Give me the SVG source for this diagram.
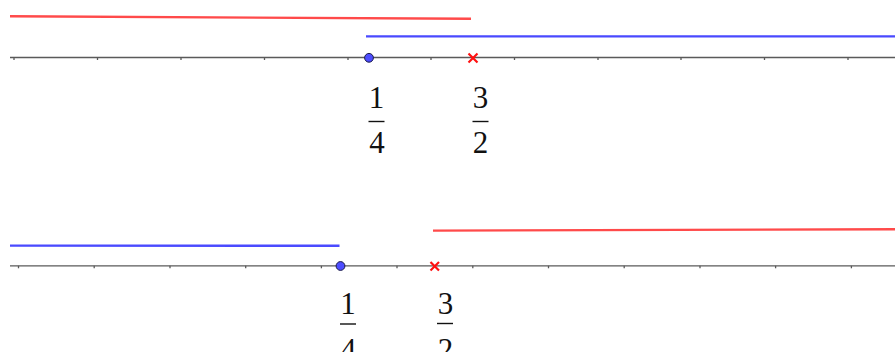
<svg xmlns="http://www.w3.org/2000/svg" width="895" height="352" viewBox="0 0 895 352">
<defs>
<style>
.axis{stroke:#5a5a5a;stroke-width:1.3;fill:none}
.tick{stroke:#5a5a5a;stroke-width:1.3}
.red{stroke:#ff4a4a;stroke-width:2.4;fill:none;stroke-linecap:butt}
.blue{stroke:#4a4aff;stroke-width:2.4;fill:none}
.dot{fill:#4d4dff;stroke:#1a1a4a;stroke-width:1}
.cross{stroke:#ff1010;stroke-width:2.2}
.num{font-family:"Liberation Serif","DejaVu Serif",serif;font-size:31px;fill:#111;text-anchor:middle}
.bar{stroke:#111;stroke-width:1.4}
</style>
</defs>
<rect width="895" height="352" fill="#fff"/>
<g id="top-axis">
<line class="axis" x1="10" y1="57.5" x2="895" y2="57.5"/>
<g class="tick">
<line x1="14" y1="57.5" x2="14" y2="60"/><line x1="97.5" y1="57.5" x2="97.5" y2="60"/><line x1="181" y1="57.5" x2="181" y2="60"/><line x1="264.5" y1="57.5" x2="264.5" y2="60"/><line x1="348" y1="57.5" x2="348" y2="60"/><line x1="431" y1="57.5" x2="431" y2="60"/><line x1="514.5" y1="57.5" x2="514.5" y2="60"/><line x1="598" y1="57.5" x2="598" y2="60"/><line x1="681" y1="57.5" x2="681" y2="60"/><line x1="764.5" y1="57.5" x2="764.5" y2="60"/><line x1="848" y1="57.5" x2="848" y2="60"/>
</g>
</g>
<g id="top-red"><line class="red" x1="10" y1="16.3" x2="471" y2="18.8"/></g>
<g id="top-blue"><line class="blue" x1="366" y1="36.4" x2="895" y2="36.4"/></g>
<g id="top-point-quarter"><circle class="dot" cx="369" cy="57.8" r="4.4"/></g>
<g id="top-point-three-halves"><line class="cross" x1="468.5" y1="53.5" x2="477.5" y2="62.5"/><line class="cross" x1="477.5" y1="53.5" x2="468.5" y2="62.5"/></g>
<g id="top-label-quarter">
<text class="num" x="376.5" y="108">1</text>
<line class="bar" x1="368.5" y1="121.5" x2="384.5" y2="121.5"/>
<text class="num" x="377" y="153">4</text>
</g>
<g id="top-label-three-halves">
<text class="num" x="480.5" y="108">3</text>
<line class="bar" x1="472.5" y1="121.5" x2="488.5" y2="121.5"/>
<text class="num" x="480.5" y="153">2</text>
</g>
<g id="bottom-axis">
<line class="axis" x1="10" y1="265.8" x2="895" y2="265.8"/>
<g class="tick">
<line x1="18.5" y1="265.8" x2="18.5" y2="268.3"/><line x1="94.2" y1="265.8" x2="94.2" y2="268.3"/><line x1="170" y1="265.8" x2="170" y2="268.3"/><line x1="245.7" y1="265.8" x2="245.7" y2="268.3"/><line x1="321.4" y1="265.8" x2="321.4" y2="268.3"/><line x1="397" y1="265.8" x2="397" y2="268.3"/><line x1="472.8" y1="265.8" x2="472.8" y2="268.3"/><line x1="548.5" y1="265.8" x2="548.5" y2="268.3"/><line x1="624.2" y1="265.8" x2="624.2" y2="268.3"/><line x1="700" y1="265.8" x2="700" y2="268.3"/><line x1="775.6" y1="265.8" x2="775.6" y2="268.3"/><line x1="851.4" y1="265.8" x2="851.4" y2="268.3"/>
</g>
</g>
<g id="bottom-blue"><line class="blue" x1="10" y1="245.6" x2="339.5" y2="245.8"/></g>
<g id="bottom-red"><line class="red" x1="433" y1="230.6" x2="895" y2="229.3"/></g>
<g id="bottom-point-quarter"><circle class="dot" cx="340.5" cy="266" r="4.4"/></g>
<g id="bottom-point-three-halves"><line class="cross" x1="430.5" y1="262" x2="439" y2="270.5"/><line class="cross" x1="439" y1="262" x2="430.5" y2="270.5"/></g>
<g id="bottom-label-quarter">
<text class="num" x="348" y="313.5">1</text>
<line class="bar" x1="340" y1="324" x2="356" y2="324"/>
<text class="num" x="348.5" y="360">4</text>
</g>
<g id="bottom-label-three-halves">
<text class="num" x="445.5" y="313.5">3</text>
<line class="bar" x1="437" y1="323.5" x2="453" y2="323.5"/>
<text class="num" x="445.5" y="360">2</text>
</g>
</svg>
